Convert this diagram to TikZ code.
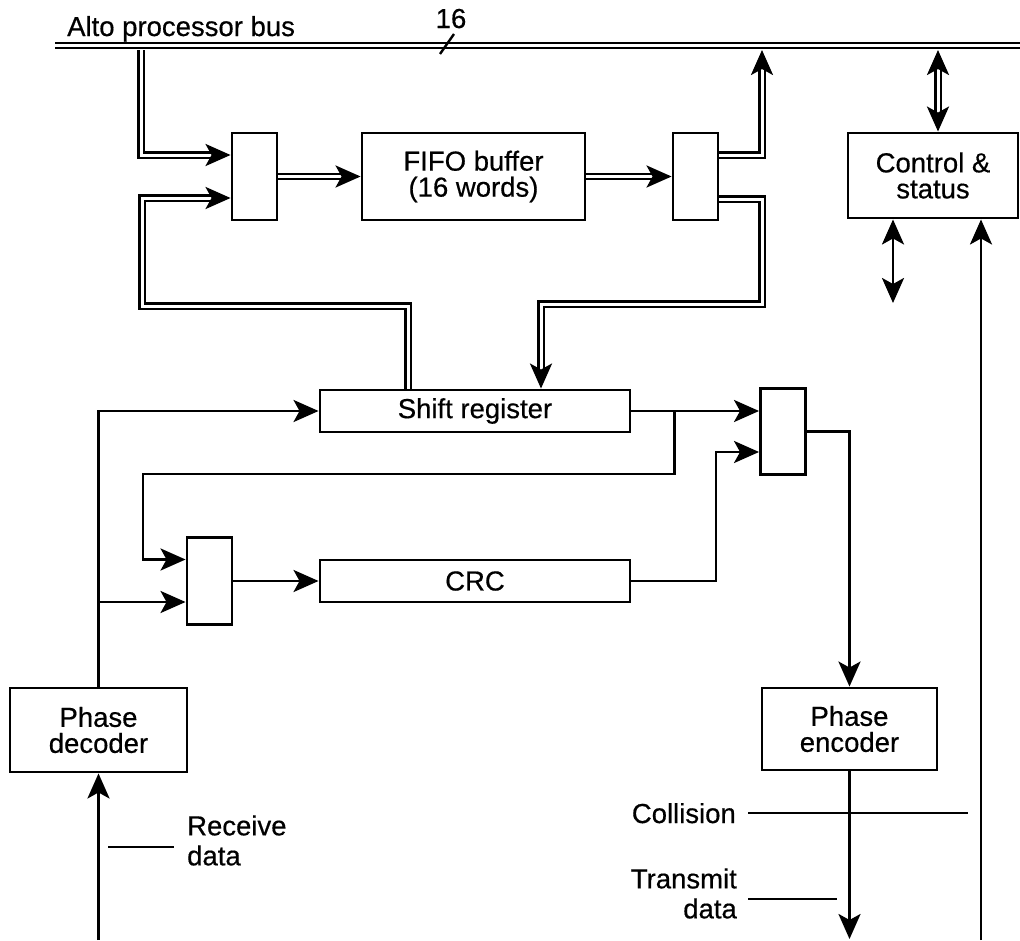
\documentclass[tikz,border=0pt]{standalone}
\usepackage{fontspec}
\setmainfont{Liberation Sans}[FakeBold=0.5]
\usetikzlibrary{arrows.meta,calc}
\begin{document}
\begin{tikzpicture}[x=1pt,y=-1pt,
  every node/.style={font=\fontsize{27.5}{26}\selectfont},
  blk/.style={draw, line width=2.9pt, inner sep=0pt, align=center},
  wire/.style={line width=2.9pt},
  arr/.style={-{Stealth[length=25pt,width=22pt,inset=6pt]}},
  biarr/.style={{Stealth[length=25pt,width=22pt,inset=6pt]}-{Stealth[length=25pt,width=22pt,inset=6pt]}},
  tipseg/.style={line width=2.9pt, -{Stealth[length=25pt,width=22pt,inset=6pt]}},
  dbl/.style={double, double distance=3pt, line width=2.4pt},
  dblend/.style={dbl, shorten >=17pt},
  lbl/.style={inner sep=0pt, font=\fontsize{27.5}{30}\selectfont}
]
\useasboundingbox (0,0) rectangle (1020,940);

% blocks
\node[blk, minimum width=45pt, minimum height=87pt] (mA) at (254.5,176.5) {};
\node[blk, minimum width=223pt, minimum height=87pt] (fifo) at (473.5,176.5) {FIFO buffer\\(16 words)};
\node[blk, minimum width=45pt, minimum height=87pt] (mB) at (695.5,176.5) {};
\node[blk, minimum width=170pt, minimum height=85pt] (ctrl) at (933,175.5) {Control \&\\status};
\node[blk, minimum width=310pt, minimum height=42pt] (sr) at (475,411) {Shift register};
\node[blk, minimum width=310pt, minimum height=42pt] (crc) at (475,581) {CRC};
\node[blk, minimum width=45pt, minimum height=87pt] (mC) at (209.5,581) {};
\node[blk, minimum width=45pt, minimum height=86pt] (mD) at (783,431.5) {};
\node[blk, minimum width=177pt, minimum height=84pt] (dec) at (98.5,730) {Phase\\decoder};
\node[blk, minimum width=175pt, minimum height=82pt] (enc) at (849.5,729) {Phase\\encoder};

% bus
\coordinate (busL) at (55,45.5);
\coordinate (busR) at (1020,45.5);
\draw[dbl] (busL) -- (busR);
\node[inner sep=0pt, anchor=base west] (busname) at (67,36) {Alto processor bus};
\node[inner sep=0pt, anchor=base] (width) at (451,28) {16};
\coordinate (slA) at (440,54);
\coordinate (slB) at (454,34);
\draw[line width=2.4pt] (slA) -- (slB);

% double-line paths (double shaft, solid tip drawn on a short end segment)
\coordinate (tapA) at (141,50);
\coordinate (mAa) at ($(mA.west)+(0,-21.5)$);
\coordinate (mAb) at ($(mA.west)+(0,21.5)$);
\draw[dblend] (tapA) |- (mAa);
\draw[tipseg] ($(mAa)+(-3,0)$) -- (mAa);

\draw[dblend] (mA) -- (fifo);
\draw[tipseg] ($(fifo.west)+(-3,0)$) -- (fifo.west);

\draw[dblend] (fifo) -- (mB);
\draw[tipseg] ($(mB.west)+(-3,0)$) -- (mB.west);

\coordinate (mBa) at ($(mB.east)+(0,-21.5)$);
\coordinate (mBb) at ($(mB.east)+(0,22.5)$);
\coordinate (tapB) at (762,50);
\draw[dblend] (mBa) -| (tapB);
\draw[tipseg] ($(tapB)+(0,3)$) -- (tapB);

\coordinate (srin) at ($(sr.north)+(66,0)$);
\draw[dblend] (mBb) -- (762,199) -- (762,304) -| (srin);
\draw[tipseg] ($(srin)+(0,-3)$) -- (srin);

\coordinate (srout) at ($(sr.north)+(-67,0)$);
\draw[dblend] (srout) |- (142,306) |- (mAb);
\draw[tipseg] ($(mAb)+(-3,0)$) -- (mAb);

\coordinate (tapC) at (938,50);
\coordinate (ctrlN) at ($(ctrl.north)+(5,0)$);
\draw[dbl, shorten >=17pt, shorten <=17pt] (tapC) -- (ctrlN);
\draw[tipseg] ($(tapC)+(0,3)$) -- (tapC);
\draw[tipseg] ($(ctrlN)+(0,-3)$) -- (ctrlN);

% control lines
\coordinate (ctrlSa) at ($(ctrl.south)+(-40,0)$);
\coordinate (ctrlIO) at (893,303);
\draw[wire,biarr] (ctrlSa) -- (ctrlIO);
\coordinate (ctrlSb) at ($(ctrl.south)+(48,0)$);
\coordinate (colin) at (981,940);
\draw[wire,arr] (colin) -- (ctrlSb);

% receive / transmit logic
\coordinate (rxin) at (98.5,940);
\draw[wire,arr] (rxin) -- (dec.south);
\draw[wire,arr] (dec.north) |- (sr.west);
\coordinate (mCa) at ($(mC.west)+(0,-21.5)$);
\coordinate (mCb) at ($(mC.west)+(0,21)$);
\draw[wire,arr] (dec.north |- mCb) -- (mCb);
\coordinate (mDa) at ($(mD.west)+(0,-20.5)$);
\coordinate (mDb) at ($(mD.west)+(0,20.5)$);
\draw[wire,arr] (sr.east) -- (mDa);
\coordinate (brS) at ($(sr.east)+(43,0)$);
\draw[wire,arr] (brS) |- (143,474) |- (mCa);
\draw[wire,arr] (mC) -- (crc);
\draw[wire,arr] (crc.east) -| (716,452) -- (mDb);
\draw[wire,arr] (mD.east) -| (enc.north);
\coordinate (txout) at (849.5,939);
\draw[wire,arr] (enc.south) -- (txout);

% labels and ticks
\coordinate (rxA) at (108,847);
\coordinate (rxB) at (174,847);
\draw[line width=2.4pt] (rxA) -- (rxB);
\node[lbl, anchor=west, align=left] (rxlbl) at (187,840.5) {Receive\\data};
\coordinate (coA) at (748,813);
\coordinate (coB) at (968,813);
\draw[line width=2.4pt] (coA) -- (coB);
\node[lbl, anchor=base east] (colbl) at (736,823) {Collision};
\coordinate (txA) at (748,899);
\coordinate (txB) at (837,899);
\draw[line width=2.4pt] (txA) -- (txB);
\node[lbl, anchor=east, align=right] (txlbl) at (737,893.5) {Transmit\\data};
\end{tikzpicture}
\end{document}
